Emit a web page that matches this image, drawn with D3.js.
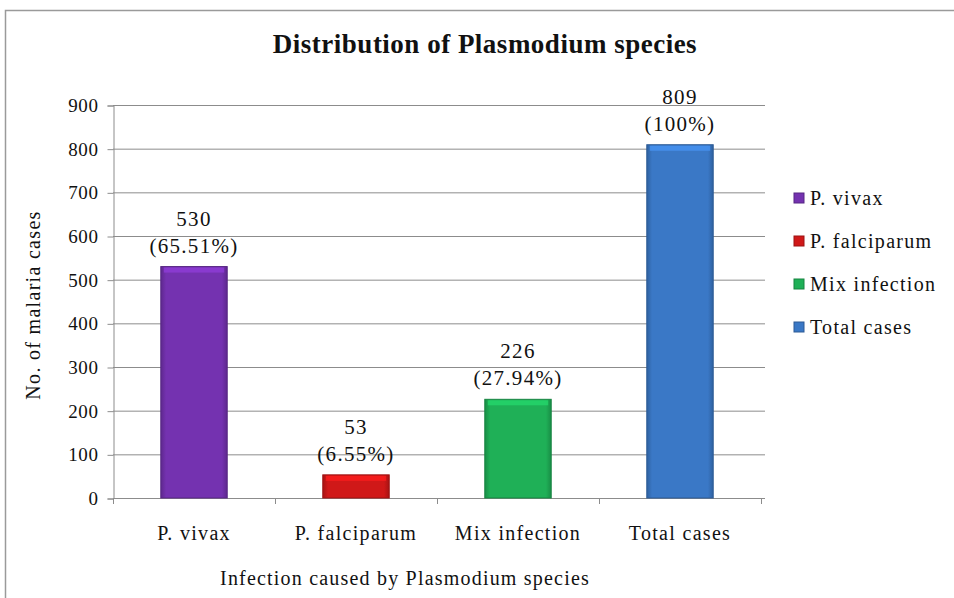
<!DOCTYPE html>
<html lang="en">
<head>
<meta charset="UTF-8">
<title>Distribution of Plasmodium species</title>
<script src="https://d3js.org/d3.v7.min.js"></script>
<style>
    body { margin: 0; background: #fff; font-family: "Liberation Serif", "Times New Roman", serif; }
    svg text { fill: #111; font-family: "Liberation Serif", serif; }
</style>
</head>
<body>
<svg width="954" height="598"></svg>
<script>
    // chart data
    const categories = ["P. vivax", "P. falciparum", "Mix infection", "Total cases"];
    const cases = [530, 53, 226, 809];
    const percents = ["(65.51%)", "(6.55%)", "(27.94%)", "(100%)"];
    const colors = ["#7432b0", "#d01818", "#1fb057", "#3a78c6"];
    const yTicks = [0, 100, 200, 300, 400, 500, 600, 700, 800, 900];

    const svg = d3.select("svg");
    const plot = { left: 113, right: 761, top: 105, bottom: 498 };

    // outer frame
    svg.append("rect")
        .attr("x", 5.5).attr("y", 10.5)
        .attr("width", 960).attr("height", 600)
        .attr("fill", "none").attr("stroke", "#9a9a9a").attr("stroke-width", 1.5);

    const x = d3.scaleBand()
        .domain(categories)
        .range([plot.left, plot.right])
        .paddingInner(0.59)
        .paddingOuter(0.295);

    const y = d3.scaleLinear()
        .domain([0, 900])
        .range([plot.bottom, plot.top]);

    // gradients for bars
    const defs = svg.append("defs");
    colors.forEach((c, i) => {
        const g = defs.append("linearGradient").attr("id", "g" + i)
            .attr("x1", 0).attr("x2", 1).attr("y1", 0).attr("y2", 0);
        g.append("stop").attr("offset", "0%").attr("stop-color", d3.color(c).darker(0.6));
        g.append("stop").attr("offset", "8%").attr("stop-color", c);
        g.append("stop").attr("offset", "92%").attr("stop-color", c);
        g.append("stop").attr("offset", "100%").attr("stop-color", d3.color(c).darker(0.6));
    });

    // gridlines
    svg.append("g")
        .selectAll("line")
        .data(yTicks.slice(1))
        .enter().append("line")
        .attr("x1", plot.left).attr("x2", plot.right + 4)
        .attr("y1", d => y(d) + 0.5).attr("y2", d => y(d) + 0.5)
        .attr("stroke", "#8c8c8c").attr("stroke-width", 1);

    // y axis
    const yAxis = svg.append("g")
        .attr("transform", `translate(${plot.left + 0.5},0.5)`)
        .call(d3.axisLeft(y).tickValues(yTicks).tickSize(6).tickPadding(9));
    yAxis.select(".domain").attr("stroke", "#8c8c8c");
    yAxis.selectAll(".tick line").attr("stroke", "#8c8c8c");
    yAxis.selectAll("text")
        .style("font-family", "Liberation Serif, serif")
        .style("font-size", "19px").style("letter-spacing", "0.6px").attr("fill", "#111");

    // x axis
    const xAxis = svg.append("g")
        .attr("transform", `translate(0,${plot.bottom + 0.5})`)
        .call(d3.axisBottom(x).tickSize(0).tickPadding(27));
    xAxis.select(".domain").attr("stroke", "#8c8c8c").attr("d", `M${plot.left},0H${plot.right + 4}`);
    xAxis.selectAll("text")
        .style("font-family", "Liberation Serif, serif")
        .style("font-size", "20px").style("letter-spacing", "1.3px").attr("fill", "#111");
    // category dividers
    const step = x.step();
    svg.append("g")
        .selectAll("line")
        .data(d3.range(categories.length + 1))
        .enter().append("line")
        .attr("x1", i => plot.left + i * step + 0.5).attr("x2", i => plot.left + i * step + 0.5)
        .attr("y1", plot.bottom).attr("y2", plot.bottom + 6)
        .attr("stroke", "#8c8c8c");

    // bars
    const bars = svg.append("g").selectAll("g")
        .data(cases)
        .enter().append("g");
    bars.append("rect")
        .attr("x", (d, i) => x(categories[i]))
        .attr("y", d => y(d))
        .attr("width", x.bandwidth())
        .attr("height", d => y(0) - y(d))
        .attr("fill", (d, i) => `url(#g${i})`)
        .attr("stroke", (d, i) => d3.color(colors[i]).darker(0.8))
        .attr("stroke-width", 1);
    // top bevel
    bars.append("rect")
        .attr("x", (d, i) => x(categories[i]) + 3)
        .attr("y", d => y(d) + 1)
        .attr("width", x.bandwidth() - 6)
        .attr("height", 5)
        .attr("fill", (d, i) => d3.color(colors[i]).brighter(0.6))
        .attr("opacity", 0.75);

    // data labels
    const labelFont = (sel) => sel.style("font-size", "21px").style("letter-spacing", "1.3px").attr("text-anchor", "middle");
    bars.append("text")
        .attr("x", (d, i) => x(categories[i]) + x.bandwidth() / 2)
        .attr("y", d => y(d) - 41)
        .text(d => d)
        .call(labelFont);
    bars.append("text")
        .attr("x", (d, i) => x(categories[i]) + x.bandwidth() / 2)
        .attr("y", d => y(d) - 14)
        .text((d, i) => percents[i])
        .call(labelFont);

    // title
    svg.append("text")
        .attr("x", 485).attr("y", 53)
        .attr("text-anchor", "middle")
        .style("font-size", "27px").style("font-weight", "bold").style("letter-spacing", "0.5px")
        .text("Distribution of Plasmodium species");

    // axis titles
    svg.append("text")
        .attr("transform", `translate(40,305) rotate(-90)`)
        .attr("text-anchor", "middle")
        .style("font-size", "20px").style("letter-spacing", "1.3px")
        .text("No. of malaria cases");
    svg.append("text")
        .attr("x", 405).attr("y", 585)
        .attr("text-anchor", "middle")
        .style("font-size", "20px").style("letter-spacing", "1.2px")
        .text("Infection caused by Plasmodium species");

    // legend
    const legend = svg.append("g").selectAll("g")
        .data(categories)
        .enter().append("g")
        .attr("transform", (d, i) => `translate(794,${198 + i * 43})`);
    legend.append("rect")
        .attr("x", 0).attr("y", -5).attr("width", 10).attr("height", 10)
        .attr("fill", (d, i) => colors[i])
        .attr("stroke", (d, i) => d3.color(colors[i]).darker(0.8));
    legend.append("text")
        .attr("x", 16).attr("y", 7)
        .style("font-size", "20px").style("letter-spacing", "1.3px")
        .text(d => d);
</script>
</body>
</html>
